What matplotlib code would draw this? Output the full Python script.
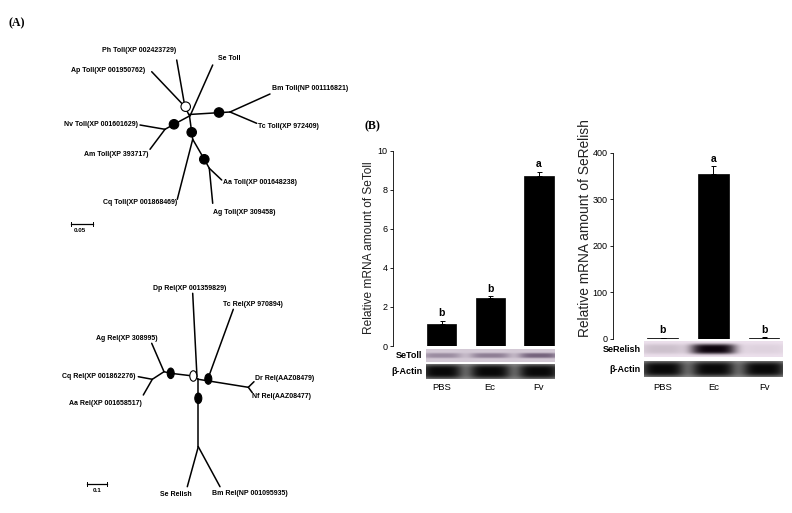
import numpy as np
import matplotlib
matplotlib.use('Agg')
import matplotlib.pyplot as plt
from matplotlib import font_manager
from matplotlib.patches import Ellipse

names = {f.name for f in font_manager.fontManager.ttflist}
if 'Liberation Sans Narrow' in names:
    NARROW = 'Liberation Sans Narrow'
    tree_fs = 6.0
else:
    NARROW = 'Liberation Sans'
    tree_fs = 5.0
plt.rcParams['font.family'] = [NARROW, 'DejaVu Sans']

W, H = 792, 513

# ---- bar chart data ----
groups = ['PBS', 'Ec', 'Fv']
toll_vals = [1.15, 2.48, 8.74]
toll_errs = [0.15, 0.08, 0.2]
toll_letters = ['b', 'b', 'a']
relish_vals = [1.5, 355, 2.5]
relish_errs = [0.5, 16, 1.0]
relish_letters = ['b', 'a', 'b']

# band strengths for the blot strips (0..1)
toll_band = [0.45, 0.55, 0.75]
toll_actin = [1.0, 1.0, 1.0]
relish_band = [0.14, 1.0, 0.06]
relish_actin = [1.0, 1.0, 1.0]

# ---- tree data (node coordinates in figure pixels) ----
toll_branches = [
    [(151.7, 71.7), (181.7, 103.3)],
    [(176.7, 60.0), (184.0, 101.7)],
    [(212.7, 65.0), (190.0, 116.0)],
    [(186.5, 110.0), (189.5, 116.0)],
    [(189.0, 114.5), (230.0, 112.0)],
    [(230.0, 112.0), (270.0, 94.0)],
    [(230.0, 112.0), (256.7, 123.3)],
    [(188.5, 116.5), (174.0, 124.3), (165.0, 129.3)],
    [(165.0, 129.3), (140.0, 125.0)],
    [(165.0, 129.3), (150.0, 149.3)],
    [(189.5, 116.0), (191.7, 132.3), (192.7, 139.3)],
    [(192.7, 139.3), (177.3, 199.3)],
    [(192.7, 139.3), (204.3, 159.3), (209.3, 168.3)],
    [(209.3, 168.3), (221.7, 180.0)],
    [(209.3, 168.3), (212.7, 203.3)],
]
toll_filled = [(219.0, 112.5), (174.0, 124.3), (191.7, 132.3), (204.3, 159.3)]
toll_open = [(185.7, 106.7)]
toll_labels = [
    ('Ph Toll(XP 002423729)', 139, 50, 'center'),
    ('Ap Toll(XP 001950762)', 145, 70, 'right'),
    ('Se Toll', 218, 59, 'left'),
    ('Bm Toll(NP 001116821)', 272, 89, 'left'),
    ('Tc Toll(XP 972409)', 258, 126, 'left'),
    ('Nv Toll(XP 001601629)', 138, 124, 'right'),
    ('Am Toll(XP 393717)', 148, 155, 'right'),
    ('Cq Toll(XP 001868469)', 177, 203, 'right'),
    ('Aa Toll(XP 001648238)', 223, 182, 'left'),
    ('Ag Toll(XP 309458)', 213, 213, 'left'),
]

rel_branches = [
    [(197.0, 377.0), (192.7, 293.3)],
    [(193.3, 376.0), (198.3, 379.3)],
    [(198.3, 379.3), (248.3, 387.3)],
    [(209.3, 375.0), (233.3, 309.3)],
    [(248.3, 387.3), (254.0, 381.7)],
    [(248.3, 387.3), (252.3, 392.7)],
    [(193.3, 376.0), (170.7, 373.3), (164.0, 371.7)],
    [(164.0, 371.7), (151.7, 343.3)],
    [(164.0, 371.7), (152.3, 379.3)],
    [(152.3, 379.3), (138.3, 376.7)],
    [(152.3, 379.3), (143.3, 395.0)],
    [(198.3, 379.3), (198.3, 446.7)],
    [(198.3, 446.7), (187.3, 486.7)],
    [(198.3, 446.7), (220.0, 486.7)],
]
rel_filled = [(208.3, 379.0), (170.7, 373.3), (198.3, 398.3)]
rel_open = [(193.3, 376.0)]
rel_labels = [
    ('Dp Rel(XP 001359829)', 189.5, 288, 'center'),
    ('Tc Rel(XP 970894)', 253, 304, 'center'),
    ('Dr Rel(AAZ08479)', 255, 379, 'left'),
    ('Nf Rel(AAZ08477)', 252, 397, 'left'),
    ('Ag Rel(XP 308995)', 127, 338, 'center'),
    ('Cq Rel(XP 001862276)', 136, 376.5, 'right'),
    ('Aa Rel(XP 001658517)', 142, 403.5, 'right'),
    ('Se Relish', 175.5, 494, 'center'),
    ('Bm Rel(NP 001095935)', 250, 493.5, 'center'),
]


def px_rect(x0, y0, x1, y1):
    return [x0 / W, 1 - y1 / H, (x1 - x0) / W, (y1 - y0) / H]


def draw_tree(ax, branches, filled, opened, labels, ew, eh):
    for br in branches:
        xs, ys = zip(*br)
        ax.plot(xs, ys, color='black', lw=1.1, solid_capstyle='round', zorder=2)
    for (x, y) in filled:
        ax.add_patch(Ellipse((x, y), ew, eh, facecolor='black', edgecolor='black', lw=0.8, zorder=3))
    for (x, y) in opened:
        ax.add_patch(Ellipse((x, y), ew, eh, facecolor='white', edgecolor='black', lw=0.8, zorder=3))
    for (t, x, y, ha) in labels:
        ax.text(x, y, t, ha=ha, va='center', fontsize=tree_fs, fontweight='bold', zorder=4)


def strip_image(strengths, bg, band, hw, vh, x0, x1, n=260, m=40):
    xs = np.linspace(x0, x1, n)
    ys = np.linspace(-1, 1, m)
    prof = np.zeros(n)
    for i, s in enumerate(strengths):
        prof += s * np.exp(-((xs - i) / hw) ** 4)
    vert = np.exp(-(ys / vh) ** 4)
    a = np.clip(vert[:, None] * prof[None, :], 0, 1)[..., None]
    bg = np.array(bg) / 255.0
    band = np.array(band) / 255.0
    return bg * (1 - a) + band * a


def blot(rect, xlim, ext, img, label, lx):
    ax = fig.add_axes(rect)
    ax.imshow(img, aspect='auto', extent=(ext[0], ext[1], 0, 1), interpolation='bilinear')
    ax.set_xlim(*xlim)
    ax.set_ylim(0, 1)
    ax.axis('off')
    fig.text(lx / W, rect[1] + rect[3] / 2, label, ha='right', va='center',
             fontsize=6.5, fontweight='bold')
    return ax


fig = plt.figure(figsize=(W / 100, H / 100), dpi=100)
bg_ax = fig.add_axes([0, 0, 1, 1])
bg_ax.set_xlim(0, W)
bg_ax.set_ylim(H, 0)
bg_ax.axis('off')

draw_tree(bg_ax, toll_branches, toll_filled, toll_open, toll_labels, 9.5, 9.5)
draw_tree(bg_ax, rel_branches, rel_filled, rel_open, rel_labels, 7.0, 10.5)

# scale bars
bg_ax.plot([71, 93], [224, 224], color='black', lw=0.9)
bg_ax.plot([71, 71], [222, 226], color='black', lw=0.7)
bg_ax.plot([93, 93], [222, 226], color='black', lw=0.7)
bg_ax.text(80, 230, '0.05', ha='center', va='center', fontsize=4.5, fontweight='bold')
bg_ax.plot([87.3, 107.3], [484, 484], color='black', lw=0.9)
bg_ax.plot([87.3, 87.3], [482, 486], color='black', lw=0.7)
bg_ax.plot([107.3, 107.3], [482, 486], color='black', lw=0.7)
bg_ax.text(97, 490.5, '0.1', ha='center', va='center', fontsize=4.5, fontweight='bold')

bg_ax.text(17, 23, '(A)', ha='center', va='center', fontsize=8.5, fontweight='bold',
           family='Liberation Serif')
bg_ax.text(372, 126, '(B)', ha='center', va='center', fontsize=8.5, fontweight='bold',
           family='Liberation Serif')

x = np.arange(len(groups))


def bar_panel(rect, xlim, vals, errs, letters, ymax, ystep, ylabel, lab_x, lab_y, lab_fs):
    ax = fig.add_axes(rect)
    ax.bar(x, vals, width=0.6, color='black', edgecolor='black', linewidth=0.5)
    ax.errorbar(x, vals, yerr=[np.zeros(len(vals)), errs], fmt='none', ecolor='black',
                elinewidth=0.7, capsize=1.8, capthick=0.7)
    for xi, v, e, t in zip(x, vals, errs, letters):
        ax.annotate(t, (xi, v + e), xytext=(0, 1.8), textcoords='offset points',
                    ha='center', va='bottom', fontsize=7.5, fontweight='bold')
    ax.set_xlim(*xlim)
    ax.set_ylim(0, ymax)
    ax.set_yticks(np.arange(0, ymax + ystep / 2, ystep))
    ax.tick_params(axis='y', direction='out', length=2.5, width=0.6, labelsize=6.5, pad=1.5)
    ax.set_xticks([])
    for s in ['top', 'right', 'bottom']:
        ax.spines[s].set_visible(False)
    ax.spines['left'].set_linewidth(0.6)
    ax.patch.set_alpha(0)
    fig.text(lab_x / W, 1 - lab_y / H, ylabel, rotation=90, ha='center', va='center',
             fontsize=lab_fs, family='Liberation Sans', color='#222222')
    return ax


# left panel: SeToll
lx0, lx1 = 393, 556
lxlim = (-(441.5 - lx0) / 48.75, (lx1 - 441.5) / 48.75)
bar_panel(px_rect(lx0, 151, lx1, 346), lxlim, toll_vals, toll_errs, toll_letters,
          10, 2, 'Relative mRNA amount of SeToll', 369.5, 247.5, 8.6)

# right panel: SeRelish
rx0, rx1 = 613, 783
rxlim = (-(662.5 - rx0) / 50.8, (rx1 - 662.5) / 50.8)
bar_panel(px_rect(rx0, 152.7, rx1, 338.7), rxlim, relish_vals, relish_errs, relish_letters,
          400, 100, 'Relative mRNA amount of SeRelish', 585, 228.5, 9.9)

# blots
lext = ((426 - 441.5) / 48.75, (555 - 441.5) / 48.75)
rext = ((644 - 662.5) / 50.8, (783 - 662.5) / 50.8)

img = strip_image(toll_band, (212, 202, 214), (85, 65, 95), 0.42, 0.4, lext[0], lext[1])
blot(px_rect(lx0, 349, lx1, 362), lxlim, lext, img, 'SeToll', 422)
img = strip_image(toll_actin, (150, 150, 150), (8, 8, 8), 0.44, 0.95, lext[0], lext[1])
blot(px_rect(lx0, 364, lx1, 379), lxlim, lext, img, '\u03b2-Actin', 422)

img = strip_image(relish_band, (236, 224, 236), (12, 2, 12), 0.45, 0.65, rext[0], rext[1])
blot(px_rect(rx0, 341, rx1, 357), rxlim, rext, img, 'SeRelish', 641)
img = strip_image(relish_actin, (150, 150, 150), (8, 8, 8), 0.44, 0.95, rext[0], rext[1])
blot(px_rect(rx0, 361, rx1, 377), rxlim, rext, img, '\u03b2-Actin', 641)

# lane labels
for cx, t in zip([441.5, 489.5, 539.0], groups):
    fig.text(cx / W, 1 - 388 / H, t, ha='center', va='center', fontsize=6.8)
for cx, t in zip([662.5, 713.3, 764.1], groups):
    fig.text(cx / W, 1 - 387 / H, t, ha='center', va='center', fontsize=6.8)

fig.savefig('out.png', dpi=100, facecolor='white')
